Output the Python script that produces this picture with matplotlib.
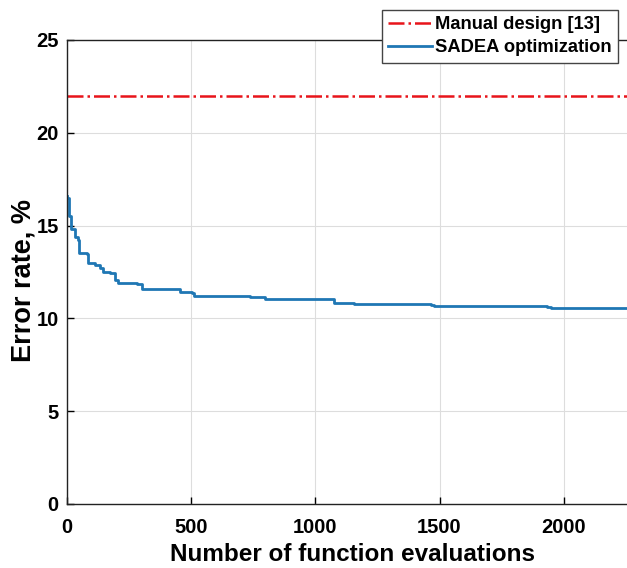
"""Convergence of SADEA optimisation vs manual design (error rate)."""
import matplotlib
matplotlib.use("Agg")
import matplotlib.pyplot as plt

# values
evals = [0, 1, 8, 15, 32, 42, 46, 79, 86, 113, 133, 146, 173, 194, 207, 281,
         301, 429, 456, 503, 512, 738, 798, 1054, 1074, 1154, 1464, 1477,
         1934, 1948, 2260]
error_rate = [16.6, 16.5, 15.5, 14.8, 14.4, 14.2, 13.5, 13.45, 13.0, 12.9,
              12.7, 12.5, 12.46, 12.07, 11.9, 11.85, 11.6, 11.58, 11.4, 11.35,
              11.2, 11.17, 11.06, 11.06, 10.81, 10.78, 10.72, 10.67, 10.63,
              10.56, 10.56]
manual_rate = 22.0
x_ticks = [0, 500, 1000, 1500, 2000]
y_ticks = [0, 5, 10, 15, 20, 25]

plt.rcParams["font.family"] = ["Liberation Sans", "DejaVu Sans"]
plt.rcParams["font.weight"] = "bold"

fig = plt.figure(figsize=(6.27, 5.68), dpi=100)
ax = fig.add_axes([0.107, 0.1127, 0.99, 0.817])

ax.axhline(manual_rate, color="#e8141a", ls="-.", lw=1.8,
           label="Manual design [13]")
ax.plot(evals, error_rate, color="#1f77b4", lw=2.0, drawstyle="steps-post",
        label="SADEA optimization")

ax.set_xlim(0, 2500)
ax.set_ylim(0, 25)
ax.set_xticks(x_ticks)
ax.set_yticks(y_ticks)
ax.grid(True, color="#dddddd", lw=0.8)
ax.tick_params(direction="in", labelsize=14.5, length=5, width=1)
ax.tick_params(axis="x", pad=10)
ax.tick_params(axis="y", pad=6)
for lab in ax.get_xticklabels() + ax.get_yticklabels():
    lab.set_fontweight("bold")
for s in ax.spines.values():
    s.set_linewidth(1.0)
    s.set_color("#222222")
ax.spines["right"].set_visible(False)

ax.set_xlabel("Number of function evaluations", fontsize=17.5,
              fontweight="bold", va="top")
ax.xaxis.set_label_coords((352 - 67) / (0.99 * 627), -(543 - 504) / 464)
ax.set_ylabel("Error rate, %", fontsize=19.5, fontweight="bold", va="center")
ax.yaxis.set_label_coords(-(67 - 23) / (0.99 * 627), (504 - 281) / 464)

fig.legend(loc="upper right", bbox_to_anchor=(0.986, 0.983),
           handlelength=2.4, handletextpad=0.15, borderpad=0.35,
           labelspacing=0.35, borderaxespad=0.0, fancybox=False,
           framealpha=1, edgecolor="#444444",
           prop={"weight": "bold", "size": 13.2})

fig.savefig("out.png", dpi=100)
